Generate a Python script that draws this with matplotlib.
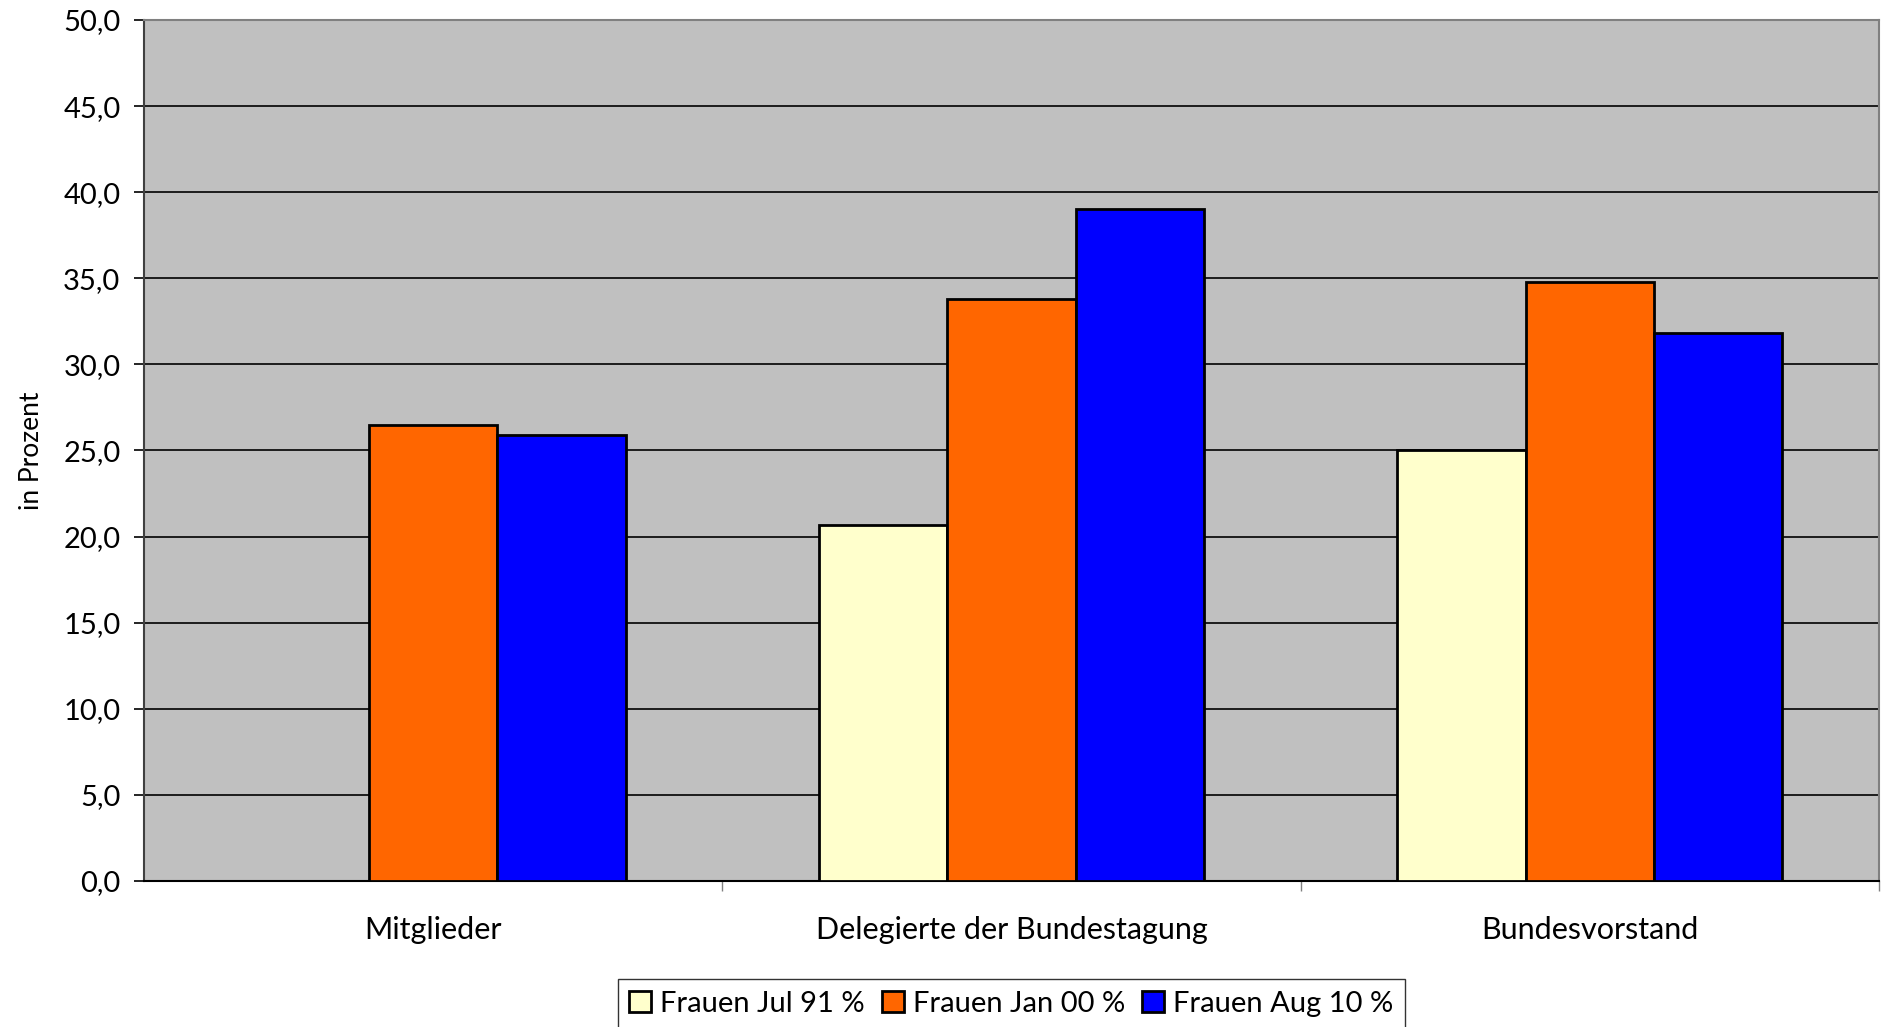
import numpy as np
import matplotlib
matplotlib.use('Agg')
import matplotlib.pyplot as plt

plt.rcParams['font.family'] = ['Lato', 'DejaVu Sans']

categories = ['Mitglieder', 'Delegierte der Bundestagung', 'Bundesvorstand']
series_names = ['Frauen Jul 91 %', 'Frauen Jan 00 %', 'Frauen Aug 10 %']
jul91 = [np.nan, 20.7, 25.0]
jan00 = [26.5, 33.8, 34.8]
aug10 = [25.9, 39.0, 31.8]
colors = ['#FFFFCC', '#FF6600', '#0000FF']
yticks = [0, 5, 10, 15, 20, 25, 30, 35, 40, 45, 50]

fig = plt.figure(figsize=(18.83, 10.27), dpi=100)
ax = fig.add_axes([0.0765, 0.1422, 0.9214, 0.8383])
ax.set_facecolor('#C0C0C0')

x = np.arange(len(categories))
w = 0.222
for i, (vals, name, col) in enumerate(zip([jul91, jan00, aug10], series_names, colors)):
    ax.bar(x + (i - 1) * w, vals, w, color=col, edgecolor='black', linewidth=2,
           label=name, zorder=3)

ax.set_xlim(-0.5, 2.5)
ax.set_ylim(0, 50)
ax.set_yticks(yticks)
ax.set_yticklabels([f'{v:.1f}'.replace('.', ',') for v in yticks], fontsize=21)
ax.yaxis.grid(True, color='black', linewidth=1.2, zorder=1)
ax.tick_params(axis='y', direction='out', length=7, width=1.2, pad=10)

ax.set_xticks([0.5, 1.5, 2.5])
ax.set_xticklabels([])
ax.tick_params(axis='x', which='major', direction='out', length=7, width=1, color='#808080')
ax.set_xticks(x, minor=True)
ax.set_xticklabels(categories, minor=True, fontsize=22)
ax.tick_params(axis='x', which='minor', length=0, pad=25)

ax.set_ylabel('in Prozent', fontsize=19, labelpad=14)

for s in ['top', 'right']:
    ax.spines[s].set_color('#808080')
    ax.spines[s].set_linewidth(1.5)
ax.spines['left'].set_color('#404040')
ax.spines['left'].set_linewidth(1.5)
ax.spines['bottom'].set_color('black')
ax.spines['bottom'].set_linewidth(1.5)

leg = fig.legend(loc='upper center', bbox_to_anchor=(0.537, 0.0467), ncol=3,
                 fontsize=21, frameon=True, fancybox=False, edgecolor='black',
                 handlelength=0.75, handleheight=0.75, handletextpad=0.3,
                 columnspacing=0.6, borderpad=0.4, borderaxespad=0)
leg.get_frame().set_linewidth(1)

fig.savefig('out.png', dpi=100)
